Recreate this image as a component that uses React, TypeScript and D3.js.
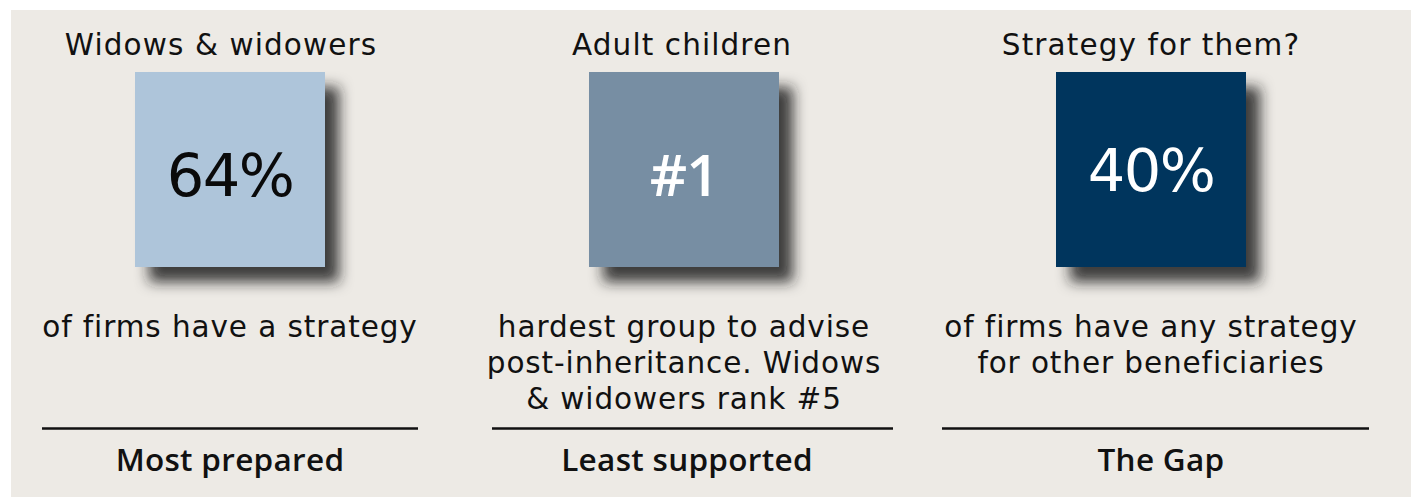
import React, { useEffect } from "react";
import * as d3 from "d3";

// ---- data ----
const categories = ["Widows & widowers", "Adult children", "Strategy for them?"];
const valueLabels = ["64%", "#1", "40%"];
const descriptions = [
  ["of firms have a strategy"],
  ["hardest group to advise", "post-inheritance. Widows", "& widowers rank #5"],
  ["of firms have any strategy", "for other beneficiaries"],
];
const footers = ["Most prepared", "Least supported", "The Gap"];
const boxColors = ["#AEC5DA", "#778EA3", "#02355D"];
const valueColors = ["#0a0a0a", "#ffffff", "#ffffff"];

// ---- layout ----
const W = 1411;
const H = 499;
const boxCenters = [230, 684, 1151];
const titleShift = [-9, -2, 0];
const footerShift = [0, 3, 10];
const lineExtents: [number, number][] = [[42, 418], [492, 893], [942, 1369]];
const BOX = 190;
const BOX_H = 195;
const BOX_TOP = 72;

export default function App() {
  useEffect(() => {
    document.body.style.margin = "0";
  }, []);
  const x = d3.scaleOrdinal<string, number>().domain(categories).range(boxCenters);
  const lineY = d3.scaleLinear().domain([0, 1]).range([337, 373]);
  const regular = "'DejaVu Sans', sans-serif";
  const bold = "'Open Sans', sans-serif";
  return (
    <svg width={W} height={H} style={{ display: "block" }}>
      <defs>
        <filter id="shadow" x="-30%" y="-30%" width="180%" height="180%">
          <feDropShadow dx={14} dy={15} stdDeviation={7} floodColor="#1e1e1e" floodOpacity={0.85} />
        </filter>
      </defs>
      <rect x={11} y={10} width={W - 11} height={487} fill="#EDEAE5" />
      {categories.map((c, i) => {
        const cx = x(c);
        return (
          <g key={c}>
            <text x={cx + titleShift[i]} y={55} textAnchor="middle" fontFamily={regular} fontSize={29.5} letterSpacing={1.1} fill="#111">
              {c}
            </text>
            <rect x={cx - BOX / 2} y={BOX_TOP} width={BOX} height={BOX_H} fill={boxColors[i]} filter="url(#shadow)" />
            <text
              x={cx}
              y={i === 2 ? 191 : 196}
              textAnchor="middle"
              fontFamily={i === 1 ? bold : regular}
              fontWeight={i === 1 ? 600 : 400}
              fontSize={i === 1 ? 58 : 59}
              letterSpacing={i === 1 ? -1 : -1.5}
              fill={valueColors[i]}
            >
              {valueLabels[i]}
            </text>
            {descriptions[i].map((d, j) => (
              <text key={j} x={cx} y={lineY(j)} textAnchor="middle" fontFamily={regular} fontSize={29.5} letterSpacing={0.9} fill="#111">
                {d}
              </text>
            ))}
            <line x1={lineExtents[i][0]} x2={lineExtents[i][1]} y1={428.5} y2={428.5} stroke="#111" strokeWidth={2.6} />
            <text x={cx + footerShift[i]} y={471} textAnchor="middle" fontFamily={bold} fontWeight={600} fontSize={31.5} letterSpacing={0.3} fill="#111">
              {footers[i]}
            </text>
          </g>
        );
      })}
    </svg>
  );
}
